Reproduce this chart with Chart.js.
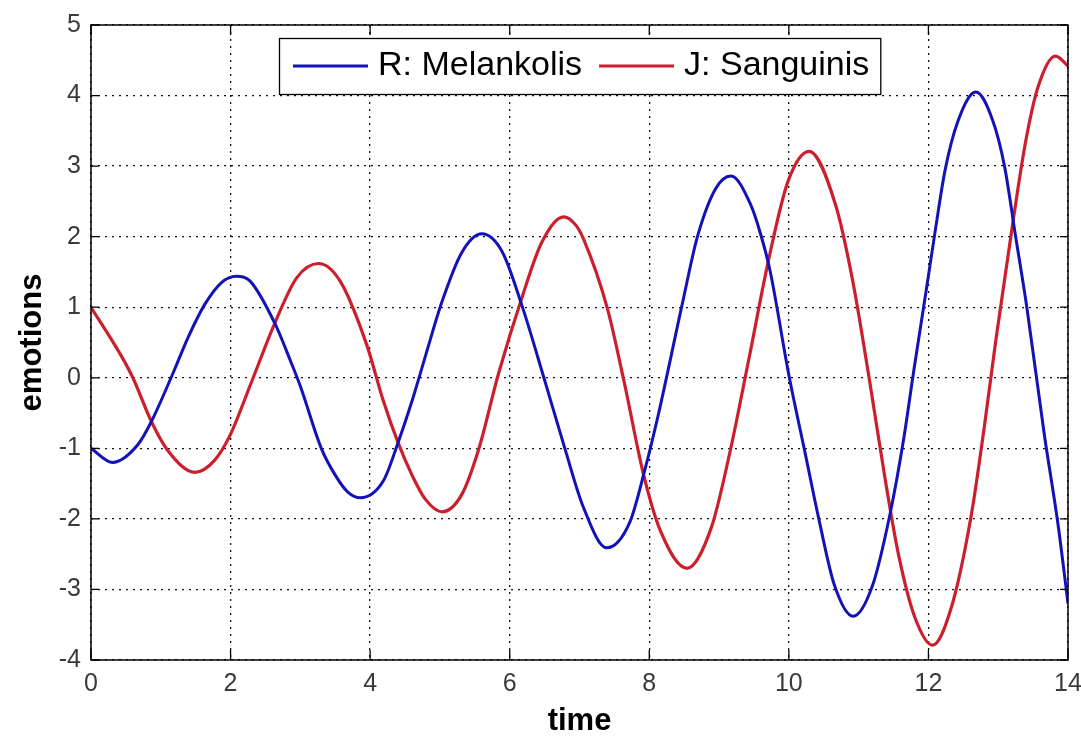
<!DOCTYPE html>
<html>
<head>
<meta charset="utf-8">
<script src="https://cdn.jsdelivr.net/npm/chart.js@4/dist/chart.umd.min.js"></script>
<style>
  html, body { margin: 0; padding: 0; background: #fff; }
  #wrap { width: 1081px; height: 738px; }
</style>
</head>
<body>
<div id="wrap"><canvas id="c" width="1081" height="738"></canvas></div>
<script>
// R: Melankolis — sampled (time, emotion) pairs
const timeR = [0, 0.31, 0.67, 0.86, 1.19, 1.39, 1.63, 1.87, 2.08, 2.28, 2.64, 2.85, 3.0, 3.3, 3.5, 3.68, 3.86, 4.19, 4.4, 4.6, 4.79, 5.03, 5.31, 5.6, 5.89, 6.17, 6.49, 6.79, 7.05, 7.39, 7.72, 7.93, 8.13, 8.48, 8.69, 8.95, 9.17, 9.45, 9.6, 9.73, 10.0, 10.24, 10.44, 10.65, 10.92, 11.2, 11.45, 11.64, 11.79, 11.97, 12.1, 12.24, 12.42, 12.68, 12.92, 13.09, 13.25, 13.41, 13.66, 13.86, 14.0];
const valuesR = [-1.0, -1.2, -0.95, -0.63, 0.1, 0.57, 1.04, 1.35, 1.44, 1.37, 0.76, 0.26, -0.12, -1.0, -1.38, -1.62, -1.7, -1.46, -0.92, -0.33, 0.3, 1.08, 1.77, 2.04, 1.79, 1.04, 0.0, -1.0, -1.82, -2.41, -2.05, -1.33, -0.52, 1.08, 2.0, 2.68, 2.86, 2.46, 2.02, 1.52, 0.04, -1.1, -2.05, -2.93, -3.38, -2.94, -1.93, -0.9, 0.1, 1.25, 2.1, 2.95, 3.63, 4.05, 3.65, 3.0, 2.0, 1.0, -0.8, -2.1, -3.2];

// J: Sanguinis — sampled (time, emotion) pairs
const timeJ = [0, 0.44, 0.6, 0.87, 1.1, 1.49, 1.77, 1.99, 2.3, 2.64, 2.95, 3.26, 3.57, 3.95, 4.19, 4.4, 4.6, 4.79, 5.03, 5.31, 5.55, 5.84, 6.17, 6.46, 6.77, 6.95, 7.06, 7.4, 7.64, 7.92, 8.16, 8.54, 8.89, 9.15, 9.43, 9.72, 9.99, 10.29, 10.67, 10.91, 11.15, 11.39, 11.57, 11.8, 12.06, 12.33, 12.61, 12.8, 12.97, 13.21, 13.39, 13.57, 13.82, 14.0];
const valuesJ = [1.0, 0.3, 0.0, -0.63, -1.03, -1.34, -1.17, -0.82, -0.06, 0.79, 1.42, 1.62, 1.37, 0.47, -0.33, -0.92, -1.38, -1.72, -1.9, -1.66, -1.03, 0.06, 1.12, 1.92, 2.28, 2.16, 1.96, 0.98, -0.06, -1.38, -2.17, -2.7, -2.12, -1.08, 0.28, 1.72, 2.79, 3.21, 2.45, 1.4, 0.0, -1.5, -2.5, -3.38, -3.79, -3.25, -1.97, -0.7, 0.56, 2.2, 3.33, 4.12, 4.56, 4.42];

const seriesLabels = ['R: Melankolis', 'J: Sanguinis'];
const seriesColors = ['#1212b8', '#cc1f2e'];
const xTicks = [0, 2, 4, 6, 8, 10, 12, 14];
const yTicks = [-4, -3, -2, -1, 0, 1, 2, 3, 4, 5];

const FONT = '"Liberation Sans", Arial, Helvetica, sans-serif';

const toPoints = (xs, ys) => xs.map((x, i) => ({ x: x, y: ys[i] }));

// Solid frame with inward tick marks on all four sides
const framePlugin = {
  id: 'frame',
  afterDatasetsDraw(chart) {
    const { ctx, chartArea: a, scales } = chart;
    ctx.save();
    ctx.strokeStyle = '#000';
    ctx.lineWidth = 1.5;
    ctx.strokeRect(a.left, a.top, a.right - a.left, a.bottom - a.top);
    ctx.lineWidth = 1.3;
    ctx.beginPath();
    yTicks.forEach(v => {
      const y = scales.y.getPixelForValue(v);
      ctx.moveTo(a.left, y); ctx.lineTo(a.left + 8, y);
      ctx.moveTo(a.right, y); ctx.lineTo(a.right - 8, y);
    });
    xTicks.forEach(v => {
      const x = scales.x.getPixelForValue(v);
      ctx.moveTo(x, a.bottom); ctx.lineTo(x, a.bottom - 10);
      ctx.moveTo(x, a.top); ctx.lineTo(x, a.top + 10);
    });
    ctx.stroke();
    ctx.restore();
  }
};

// Boxed legend inside the top of the plot
const boxedLegend = {
  id: 'boxedLegend',
  afterDraw(chart) {
    const { ctx, chartArea: a } = chart;
    ctx.save();
    ctx.font = '34px ' + FONT;
    const items = chart.data.datasets.map(ds => ({
      text: ds.label, color: ds.borderColor, w: ctx.measureText(ds.label).width
    }));
    const padL = 14, lineLen = 75, gapText = 10, gapItem = 17, padR = 11, h = 56;
    let total = padL + padR;
    items.forEach((it, i) => { total += lineLen + gapText + it.w + (i ? gapItem : 0); });
    const left = Math.round((a.left + a.right) / 2 - total / 2);
    const top = a.top + 13;
    ctx.fillStyle = '#fff';
    ctx.fillRect(left, top, total, h);
    ctx.strokeStyle = '#000';
    ctx.lineWidth = 1.3;
    ctx.strokeRect(left + 0.5, top + 0.5, total, h);
    const cy = top + h / 2;
    let x = left + padL;
    items.forEach((it, i) => {
      if (i) x += gapItem;
      ctx.strokeStyle = it.color;
      ctx.lineWidth = 3;
      ctx.beginPath();
      ctx.moveTo(x, cy); ctx.lineTo(x + lineLen, cy);
      ctx.stroke();
      x += lineLen + gapText;
      ctx.fillStyle = '#000';
      ctx.textAlign = 'left';
      ctx.textBaseline = 'middle';
      ctx.fillText(it.text, x, cy);
      x += it.w;
    });
    ctx.restore();
  }
};

const whiteBg = {
  id: 'whiteBg',
  beforeDraw(chart) {
    const { ctx, width, height } = chart;
    ctx.save();
    ctx.fillStyle = '#fff';
    ctx.fillRect(0, 0, width, height);
    ctx.restore();
  }
};

new Chart(document.getElementById('c'), {
  type: 'line',
  data: {
    datasets: [
      { label: seriesLabels[0], data: toPoints(timeR, valuesR), borderColor: seriesColors[0], borderWidth: 3, pointRadius: 0, cubicInterpolationMode: 'monotone', fill: false },
      { label: seriesLabels[1], data: toPoints(timeJ, valuesJ), borderColor: seriesColors[1], borderWidth: 3.2, pointRadius: 0, cubicInterpolationMode: 'monotone', fill: false }
    ]
  },
  options: {
    responsive: false,
    animation: false,
    devicePixelRatio: 1,
    layout: { padding: { left: 0, top: 22, right: 13, bottom: 0 } },
    plugins: { legend: { display: false }, tooltip: { enabled: false } },
    scales: {
      x: {
        type: 'linear',
        min: 0, max: 14,
        afterBuildTicks: s => { s.ticks = xTicks.map(v => ({ value: v })); },
        afterFit: s => { s.height = 78; s.paddingLeft = 0; s.paddingRight = 0; },
        grid: { color: '#111', lineWidth: 1.3, drawTicks: false },
        border: { display: false, dash: [2, 5] },
        ticks: { color: '#3a3a3a', font: { family: FONT, size: 25 }, padding: 9, maxRotation: 0 },
        title: { display: true, text: 'time', color: '#000', font: { family: FONT, size: 31, weight: 'bold', lineHeight: 1 }, padding: { top: 0, bottom: 1 } }
      },
      y: {
        type: 'linear',
        min: -4, max: 5,
        afterBuildTicks: s => { s.ticks = yTicks.map(v => ({ value: v })); },
        afterFit: s => { s.width = 91; },
        grid: { color: '#111', lineWidth: 1.3, drawTicks: false },
        border: { display: false, dash: [2, 5] },
        ticks: { color: '#3a3a3a', font: { family: FONT, size: 25 }, padding: 10 },
        title: { display: true, text: 'emotions', color: '#000', font: { family: FONT, size: 31, weight: 'bold', lineHeight: 1 }, padding: { top: 17, bottom: 0 } }
      }
    }
  },
  plugins: [whiteBg, framePlugin, boxedLegend]
});
</script>
</body>
</html>
